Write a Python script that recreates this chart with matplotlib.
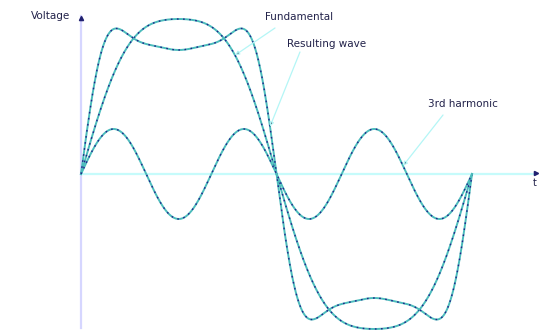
import numpy as np
import matplotlib.pyplot as plt

# harmonic make-up of each drawn curve (amplitudes in chart units)
harmonics = [1, 3, 5, 7]
fundamental_amp = [170.0, 15.0, 0.0, 0.0]
third_amp = [0.0, 45.0, 0.0, 0.0]
resultant_amp = [164.7, 55.3, 19.6, 5.0]

labels = ["Fundamental", "Resulting wave", "3rd harmonic"]
y_label = "Voltage"
x_label = "t"

# angle in degrees, one full period
theta = np.linspace(0, 360, 1441)


def wave(amps):
    out = np.zeros_like(theta)
    for n, a in zip(harmonics, amps):
        out += a * np.sin(np.radians(n * theta))
    return out


fund = wave(fundamental_amp)
third = wave(third_amp)
result = wave(resultant_amp)

fig = plt.figure(figsize=(5.49, 3.31), dpi=100)
ax = fig.add_axes([0, 0, 1, 1])
ax.set_xlim(-74.6, 430.9)
ax.set_ylim(-157, 174)
ax.axis('off')

#   axes lines
ax.plot([0, 0], [-154, 158], color='#d6d6ff', lw=1.6, zorder=1)
ax.plot([0, 419], [0, 0], color='#c6fbfb', lw=1.6, zorder=1)
ax.plot(0, 156, marker='^', ms=3, color='#202070', zorder=3)
ax.plot(419, 1, marker='>', ms=3, color='#202070', zorder=3)

#   curves: teal line with navy dashes on top
for y in (fund, result, third):
    ax.plot(theta, y, color='#4cbcbc', lw=1.4, zorder=2)
    ax.plot(theta, y, color='#22228a', lw=1.0, dashes=(1.2, 3.2), zorder=2)

#   labels with leader lines
txt = dict(fontsize=7.5, color='#22224a')
ax.text(-10, 158, y_label, ha='right', va='center', **txt)
ax.text(418, -9, x_label, ha='center', va='center', fontsize=7, color='#22224a')

lead = dict(arrowstyle='-|>', ec='#b4f6f6', fc='#202040', lw=0.9,
            mutation_scale=6, shrinkA=0, shrinkB=0)
targets = [(fund, 141.8), (result, 174.0), (third, 296.5)]
starts = [(178.6, 146), (201.6, 122), (333.3, 59)]
text_pos = [(169.4, 156.5), (189.7, 130), (319.5, 70)]
for lab, (curve, t0), s, p in zip(labels, targets, starts, text_pos):
    yv = np.interp(t0, theta, curve)
    ax.annotate('', xy=(t0, yv), xytext=s, arrowprops=lead, zorder=4)
    ax.text(p[0], p[1], lab, ha='left', va='center', **txt)

fig.savefig('out.png', dpi=100)
